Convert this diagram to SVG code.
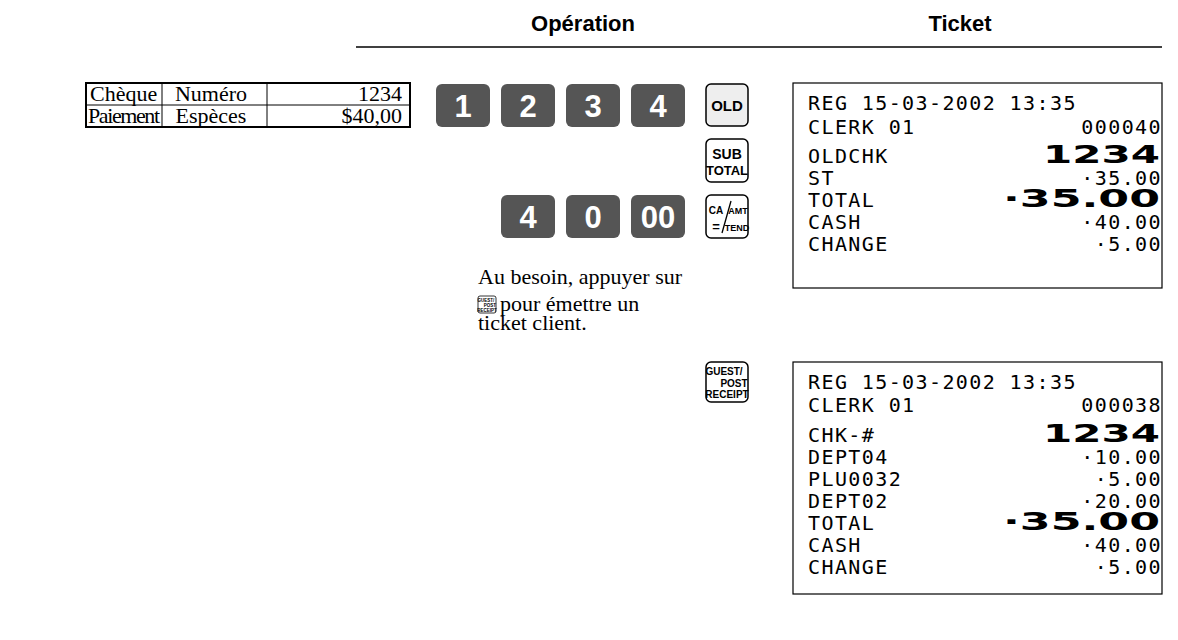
<svg xmlns="http://www.w3.org/2000/svg" width="1178" height="640" viewBox="0 0 1178 640">
<style>
.h{font-family:"Liberation Sans",Arial,sans-serif;font-weight:bold;font-size:22px;text-anchor:middle}
.t{font-family:"Liberation Serif",serif;font-size:22px}
.k{fill:#555;rx:6}
.kt{font-family:"Liberation Sans",Arial,sans-serif;font-weight:bold;font-size:31px;fill:#fff;text-anchor:middle}
.f{fill:#fff;stroke:#000;stroke-width:1.5}
.ft{font-family:"Liberation Sans Narrow","Liberation Sans",Arial,sans-serif;font-weight:bold;text-anchor:middle}
.r{font-family:"DejaVu Sans Mono","Liberation Mono",monospace;font-size:20px;letter-spacing:1.4px}
.b{font-family:"DejaVu Sans",sans-serif;font-weight:bold;font-size:25px}
.e{text-anchor:end}
.c{text-anchor:middle}
</style>
<rect width="1178" height="640" fill="#fff"/>
<g id="header">
<text class="h" x="583" y="31">Opération</text>
<text class="h" x="960" y="31">Ticket</text>
<line x1="356" y1="47" x2="1162" y2="47" stroke="#000" stroke-width="1.5"/>
</g>
<g id="table">
<rect x="86" y="83" width="324" height="44" fill="none" stroke="#000" stroke-width="2"/>
<line x1="86" y1="105" x2="410" y2="105" stroke="#000"/>
<line x1="162" y1="83" x2="162" y2="127" stroke="#000"/>
<line x1="267" y1="83" x2="267" y2="127" stroke="#000"/>
<text class="t" x="90" y="101">Chèque</text><text class="t c" x="211" y="101">Numéro</text><text class="t e" x="402" y="101">1234</text>
<text class="t" x="88" y="123" textLength="72">Paiement</text><text class="t c" x="211" y="123">Espèces</text><text class="t e" x="402" y="123">$40,00</text>
</g>
<g id="keys">
<rect class="k" x="436" y="84" width="54" height="43"/><text class="kt" x="463" y="117">1</text>
<rect class="k" x="501" y="84" width="54" height="43"/><text class="kt" x="528" y="117">2</text>
<rect class="k" x="566" y="84" width="54" height="43"/><text class="kt" x="593" y="117">3</text>
<rect class="k" x="631" y="84" width="54" height="43"/><text class="kt" x="658" y="117">4</text>
<rect class="k" x="501" y="195" width="54" height="43"/><text class="kt" x="528" y="228">4</text>
<rect class="k" x="566" y="195" width="54" height="43"/><text class="kt" x="593" y="228">0</text>
<rect class="k" x="631" y="195" width="54" height="43"/><text class="kt" x="658" y="228">00</text>
<rect x="706" y="84" width="42" height="42" rx="5" fill="#eee" stroke="#000" stroke-width="1.5"/><text class="ft" x="727" y="111" style="font-size:15px">OLD</text>
<rect class="f" x="706" y="139" width="42" height="43" rx="5"/><text class="ft" x="727" y="159" style="font-size:14px">SUB</text><text class="ft" x="727" y="175" style="font-size:13px">TOTAL</text>
<rect class="f" x="706" y="195" width="42" height="43" rx="5"/><text class="ft" x="716" y="214" style="font-size:10px">CA</text><text class="ft" x="716" y="231" style="font-size:13px">=</text><line x1="731" y1="201" x2="722" y2="233" stroke="#000" stroke-width="1.3"/><text class="ft" x="738" y="214" style="font-size:9px">AMT</text><text class="ft" x="737" y="231" style="font-size:9px">TEND</text>
<rect class="f" x="706" y="362" width="42" height="40" rx="5"/><text class="ft" x="724" y="375" style="font-size:10px">GUEST/</text><text class="ft" x="734" y="387" style="font-size:10px">POST</text><text class="ft" x="727" y="398" style="font-size:10px">RECEIPT</text>
</g>
<g id="note">
<text class="t" x="478" y="284">Au besoin, appuyer sur</text>
<rect x="478" y="296" width="18" height="17" rx="2" fill="#fff" stroke="#000" stroke-width="0.8"/>
<text class="ft" x="486" y="301.5" style="font-size:4.5px">GUEST/</text><text class="ft" x="490" y="306.5" style="font-size:4.5px">POST</text><text class="ft" x="487" y="311.5" style="font-size:4.5px">RECEIPT</text>
<text class="t" x="500" y="311">pour émettre un</text>
<text class="t" x="478" y="330">ticket client.</text>
</g>
<g id="receipt1">
<rect x="793" y="83" width="369" height="205" fill="none" stroke="#000" stroke-width="1.2"/>
<text class="r" x="808" y="110">REG  15-03-2002 13:35</text>
<text class="r" x="808" y="134">CLERK 01</text><text class="r e" x="1162" y="134">000040</text>
<text class="r" x="808" y="163">OLDCHK</text><text class="b" x="1043" y="163" textLength="117" lengthAdjust="spacingAndGlyphs">1234</text>
<text class="r" x="808" y="185">ST</text><text class="r e" x="1162" y="185">·35.00</text>
<text class="r" x="808" y="207">TOTAL</text><text class="b" x="1003" y="207" textLength="157" lengthAdjust="spacingAndGlyphs">·35.00</text>
<text class="r" x="808" y="229">CASH</text><text class="r e" x="1162" y="229">·40.00</text>
<text class="r" x="808" y="251">CHANGE</text><text class="r e" x="1162" y="251">·5.00</text>
</g>
<g id="receipt2">
<rect x="793" y="362" width="369" height="232" fill="none" stroke="#000" stroke-width="1.2"/>
<text class="r" x="808" y="389">REG  15-03-2002 13:35</text>
<text class="r" x="808" y="412">CLERK 01</text><text class="r e" x="1162" y="412">000038</text>
<text class="r" x="808" y="442">CHK-#</text><text class="b" x="1043" y="442" textLength="117" lengthAdjust="spacingAndGlyphs">1234</text>
<text class="r" x="808" y="464">DEPT04</text><text class="r e" x="1162" y="464">·10.00</text>
<text class="r" x="808" y="486">PLU0032</text><text class="r e" x="1162" y="486">·5.00</text>
<text class="r" x="808" y="508">DEPT02</text><text class="r e" x="1162" y="508">·20.00</text>
<text class="r" x="808" y="530">TOTAL</text><text class="b" x="1003" y="530" textLength="157" lengthAdjust="spacingAndGlyphs">·35.00</text>
<text class="r" x="808" y="552">CASH</text><text class="r e" x="1162" y="552">·40.00</text>
<text class="r" x="808" y="574">CHANGE</text><text class="r e" x="1162" y="574">·5.00</text>
</g>
<g id="connectors"/>
</svg>
